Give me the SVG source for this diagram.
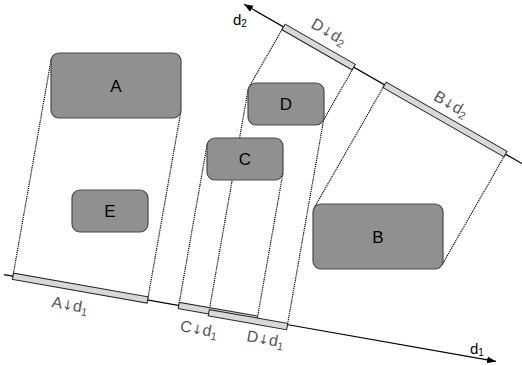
<svg xmlns="http://www.w3.org/2000/svg" width="522" height="366" viewBox="0 0 522 366">
<style>
.box{fill:#909090;stroke:#4a4a4a;stroke-width:1.2}
.lbl{font-family:"Liberation Sans",Arial,sans-serif;font-size:17px;fill:#000;text-anchor:middle}
.dot{fill:none;stroke:#000;stroke-width:1.2;stroke-dasharray:1.2 0.9}
.axis{fill:none;stroke:#000;stroke-width:1.2}
.bar{fill:#d8d8d8;stroke:#222;stroke-width:1}
.plbl{font-family:"Liberation Sans",Arial,sans-serif;font-size:16px;fill:#555}
.arw{font-family:"DejaVu Sans",sans-serif;font-size:13px}
.albl{font-family:"Liberation Sans",Arial,sans-serif;font-size:15px;fill:#000}
</style>
<defs>
<marker id="arr" markerWidth="10" markerHeight="8" refX="9" refY="4" orient="auto" markerUnits="userSpaceOnUse">
<path d="M0,0.5 L9,4 L0,7.5 z" fill="#000"/>
</marker>
</defs>
<g id="connectors">
<line class="dot" x1="51.12" y1="59.61" x2="12.93" y2="276.24"/>
<line class="dot" x1="180.88" y1="111.39" x2="147.63" y2="299.98"/>
<line class="dot" x1="207.12" y1="144.61" x2="178.76" y2="305.47"/>
<line class="dot" x1="282.88" y1="173.39" x2="257.15" y2="319.29"/>
<line class="dot" x1="248.12" y1="89.61" x2="208.78" y2="312.79"/>
<line class="dot" x1="323.88" y1="118.39" x2="287.17" y2="326.61"/>
<line class="dot" x1="249.06" y1="87.02" x2="283.5" y2="26.95"/>
<line class="dot" x1="322.94" y1="120.98" x2="353.77" y2="67.2"/>
<line class="dot" x1="314.06" y1="208.02" x2="384.6" y2="84.86"/>
<line class="dot" x1="441.94" y1="264.98" x2="505.5" y2="154.1"/>
</g>
<g id="axis-d1">
<line class="axis" x1="4" y1="274.66" x2="496" y2="361.4" marker-end="url(#arr)"/>
<text class="albl" x="470" y="354">d<tspan font-size="10" dy="2">1</tspan></text>
</g>
<g id="axis-d2">
<line class="axis" x1="525" y1="165.3" x2="244" y2="4.3" marker-end="url(#arr)"/>
<text class="albl" x="233" y="25">d<tspan font-size="10" dy="2">2</tspan></text>
</g>
<g id="A">
<rect class="box" x="51" y="53" width="130" height="65" rx="8"/>
<text class="lbl" x="116" y="92">A</text>
</g>
<g id="E">
<rect class="box" x="72" y="190" width="76" height="42" rx="8"/>
<text class="lbl" x="110" y="217">E</text>
</g>
<g id="C">
<rect class="box" x="207" y="138" width="76" height="42" rx="8"/>
<text class="lbl" x="245" y="165">C</text>
</g>
<g id="D">
<rect class="box" x="248" y="83" width="76" height="42" rx="8"/>
<text class="lbl" x="286" y="110">D</text>
</g>
<g id="B">
<rect class="box" x="313" y="204" width="130" height="65" rx="8"/>
<text class="lbl" x="378" y="243">B</text>
</g>
<g id="A-d1">
<rect class="bar" transform="translate(12.93 276.24) rotate(10)" x="0" y="-3.2" width="136.8" height="6.4"/>
<text class="plbl" transform="translate(51 307) rotate(10)">A<tspan class="arw">↓</tspan>d<tspan font-size="11" dy="3">1</tspan></text>
</g>
<g id="C-d1">
<rect class="bar" transform="translate(178.76 305.47) rotate(10)" x="0" y="-3.2" width="79.6" height="6.4"/>
<text class="plbl" transform="translate(179.5 331) rotate(10)">C<tspan class="arw">↓</tspan>d<tspan font-size="11" dy="3">1</tspan></text>
</g>
<g id="D-d1">
<rect class="bar" transform="translate(208.78 312.79) rotate(10)" x="0" y="-3.2" width="79.6" height="6.4"/>
<text class="plbl" transform="translate(246 341) rotate(10)">D<tspan class="arw">↓</tspan>d<tspan font-size="11" dy="3">1</tspan></text>
</g>
<g id="D-d2">
<rect class="bar" transform="translate(283.5 26.95) rotate(29.8)" x="0" y="-3.2" width="81" height="6.4"/>
<text class="plbl" transform="translate(310 27) rotate(29.8)">D<tspan class="arw">↓</tspan>d<tspan font-size="11" dy="3">2</tspan></text>
</g>
<g id="B-d2">
<rect class="bar" transform="translate(384.6 84.86) rotate(29.8)" x="0" y="-3.2" width="139.3" height="6.4"/>
<text class="plbl" transform="translate(432.5 99.5) rotate(29.8)">B<tspan class="arw">↓</tspan>d<tspan font-size="11" dy="3">2</tspan></text>
</g>
</svg>
